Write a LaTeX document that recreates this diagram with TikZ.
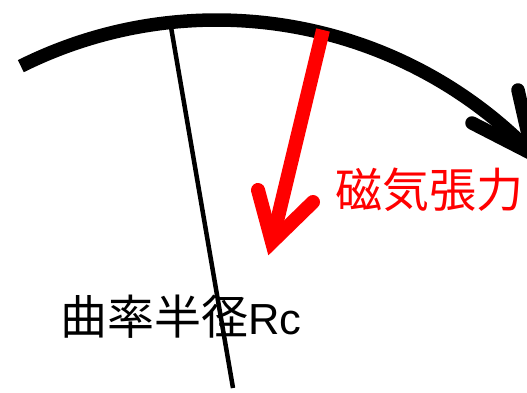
\documentclass[tikz,border=0pt]{standalone}
\usepackage{fontspec}
\newfontfamily\cjk{Noto Sans CJK JP}
\newfontfamily\lat{Liberation Sans}
\tikzset{
  thinline/.style={draw=black, line width=4.5pt},
  arcline/.style={draw=black, line width=13.5pt, line cap=butt},
  barbline/.style={draw=black, line width=13.5pt, line cap=round, line join=round},
  redshaft/.style={draw=red, line width=14pt, line cap=butt},
  redbarb/.style={draw=red, line width=14pt, line cap=round, line join=miter},
  lbl/.style={anchor=base west, inner sep=0pt, font=\cjk\fontsize{47}{50}\selectfont}
}
\begin{document}
\begin{tikzpicture}[x=1pt,y=-1pt]
\useasboundingbox (0,0) rectangle (527,392);
\clip (0,0) rectangle (527,392);
\coordinate (C) at (216.7,459);
% labels
\node[lbl, text=red] (t1) at (335,207) {磁気張力};
\node[lbl, text=black] (t2) at (60,334) {曲率半径{\lat\fontsize{43.5}{45}\selectfont Rc}};
% radius line
\coordinate (r1) at (171,27);
\coordinate (r2) at (233,388);
\draw[thinline] (r1) -- (r2);
% field line arc with arrow
\coordinate (s) at ([shift={(-116.5:439)}]C);
\coordinate (e) at ([shift={(-44:439)}]C);
\draw[arcline] (s) arc[start angle=-116.5, end angle=-44, radius=439];
\coordinate (k1) at (472,123);
\coordinate (k2) at (518,90);
\draw[barbline] (k1) -- (e) -- (k2);
% magnetic tension arrow
\coordinate (a1) at (323,30);
\coordinate (a2) at (272,242);
\coordinate (b1) at (258,190);
\coordinate (b2) at (313,202);
\draw[redshaft] (a1) -- (a2);
\draw[redbarb] (b1) -- (a2) -- (b2);
\end{tikzpicture}
\end{document}
